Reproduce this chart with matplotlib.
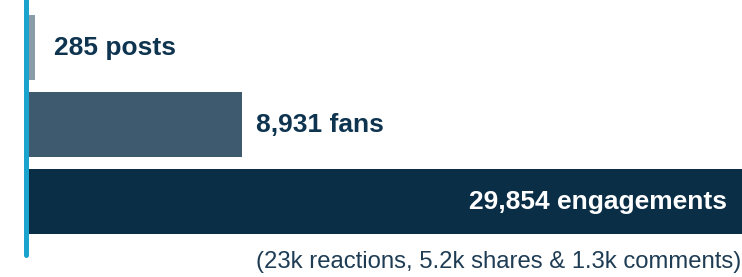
import matplotlib
matplotlib.use("Agg")
import matplotlib.pyplot as plt
from matplotlib.lines import Line2D

categories = ["posts", "fans", "engagements"]
values = [285, 8931, 29854]
labels = ["285 posts", "8,931 fans", "29,854 engagements"]
subtitle = "(23k reactions, 5.2k shares & 1.3k comments)"
colors = ["#8A9CA8", "#3D5A6E", "#0B2E47"]

W, H = 742, 277
fig = plt.figure(figsize=(W / 100, H / 100), dpi=100)
left_px = 28.5
ax = fig.add_axes([left_px / W, 0, (W - left_px) / W, 1])
ax.set_axis_off()

pos = list(range(len(values)))
ax.barh(pos, values, height=65 / 77, color=colors, align="center")
ax.set_xlim(0, max(values))
top = -47.5 / 77
ax.set_ylim((H - 47.5) / 77, top)

font = ["Liberation Sans", "DejaVu Sans"]
txt = "#0E3450"
fs = 19
ax.annotate(labels[0], (values[0], 0), xytext=(19, 0), textcoords="offset pixels",
            ha="left", va="center", fontsize=fs, fontweight="bold", color=txt, family=font)
ax.annotate(labels[1], (values[1], 1), xytext=(14, 0), textcoords="offset pixels",
            ha="left", va="center", fontsize=fs, fontweight="bold", color=txt, family=font)
ax.annotate(labels[2], (values[2], 2), xytext=(-15, 0), textcoords="offset pixels",
            ha="right", va="center", fontsize=fs, fontweight="bold", color="white", family=font)

fig.text(741 / W, 1 - 262 / H, subtitle, ha="right", va="center", fontsize=17.2,
         color="#1E3C54", family=font)

line = Line2D([26 / W, 26 / W], [1 + 0.01, 1 - 254.5 / H], transform=fig.transFigure,
              color="#1AA3CC", linewidth=5 * 72 / 100, solid_capstyle="round")
fig.add_artist(line)

fig.savefig("out.png", dpi=100)
